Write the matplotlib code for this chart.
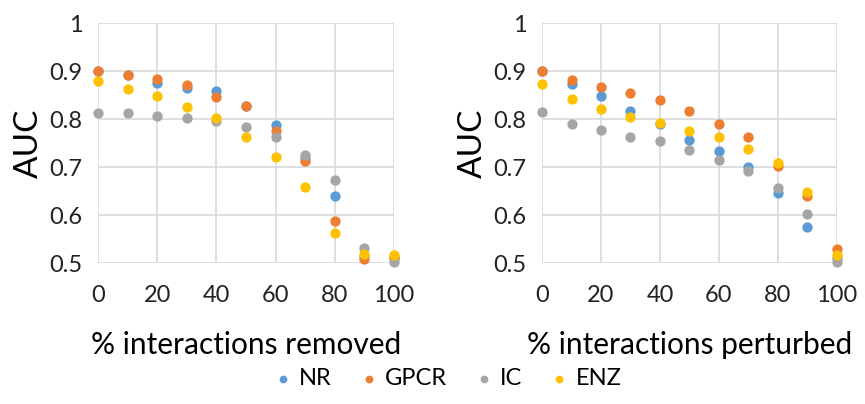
import matplotlib
matplotlib.use("Agg")
import matplotlib.pyplot as plt

plt.rcParams['font.family'] = ['Lato', 'DejaVu Sans']

pct = [0, 10, 20, 30, 40, 50, 60, 70, 80, 90, 100]

# % interactions removed
removed = {
    'NR':   [0.900, 0.891, 0.876, 0.864, 0.858, 0.827, 0.787, 0.718, 0.639, 0.515, 0.512],
    'GPCR': [0.900, 0.891, 0.883, 0.870, 0.845, 0.827, 0.776, 0.713, 0.588, 0.508, 0.510],
    'IC':   [0.812, 0.813, 0.806, 0.802, 0.795, 0.783, 0.762, 0.725, 0.673, 0.531, 0.503],
    'ENZ':  [0.879, 0.862, 0.847, 0.825, 0.802, 0.763, 0.721, 0.659, 0.562, 0.519, 0.517],
}

# % interactions perturbed
perturbed = {
    'NR':   [0.900, 0.872, 0.849, 0.817, 0.790, 0.757, 0.734, 0.701, 0.646, 0.576, 0.510],
    'GPCR': [0.900, 0.881, 0.867, 0.854, 0.840, 0.817, 0.790, 0.762, 0.703, 0.639, 0.530],
    'IC':   [0.814, 0.789, 0.777, 0.762, 0.754, 0.736, 0.714, 0.692, 0.656, 0.603, 0.503],
    'ENZ':  [0.874, 0.842, 0.820, 0.804, 0.792, 0.776, 0.762, 0.738, 0.709, 0.647, 0.517],
}

colors = {'NR': '#5B9BD5', 'GPCR': '#ED7D31', 'IC': '#A5A5A5', 'ENZ': '#FFC000'}

fig = plt.figure(figsize=(8.65, 4.04), dpi=100)
ax1 = fig.add_axes([0.1133, 0.349, 0.342, 0.594])
ax2 = fig.add_axes([0.6266, 0.349, 0.341, 0.594])

for ax, data, xlabel in [(ax1, removed, '% interactions removed'),
                         (ax2, perturbed, '% interactions perturbed')]:
    for name in ['NR', 'GPCR', 'IC', 'ENZ']:
        ax.scatter(pct, data[name], s=55, color=colors[name], label=name,
                   zorder=3, clip_on=False, linewidths=0)
    ax.set_xlim(0, 100)
    ax.set_ylim(0.5, 1)
    ax.set_xticks([0, 20, 40, 60, 80, 100])
    ax.set_yticks([0.5, 0.6, 0.7, 0.8, 0.9, 1])
    ax.set_yticklabels(['0.5', '0.6', '0.7', '0.8', '0.9', '1'])
    ax.grid(True, color='#D9D9D9', linewidth=1.2)
    ax.set_axisbelow(True)
    for s in ax.spines.values():
        s.set_visible(False)
    ax.tick_params(axis='x', length=0, labelsize=17, pad=16, colors='#222222')
    ax.tick_params(axis='y', length=0, labelsize=17, pad=11, colors='#222222')
    ax.set_xlabel(xlabel, fontsize=21.5, labelpad=18)
    ax.set_ylabel('AUC', fontsize=24, labelpad=4)

handles, labels = ax1.get_legend_handles_labels()
fig.legend(handles, labels, loc='center', bbox_to_anchor=(0.518, 0.062), ncol=4,
           frameon=False, fontsize=17, handlelength=0.7, handletextpad=0.35,
           columnspacing=1.2, scatterpoints=1, markerscale=0.75)

fig.savefig('out.png', dpi=100)
